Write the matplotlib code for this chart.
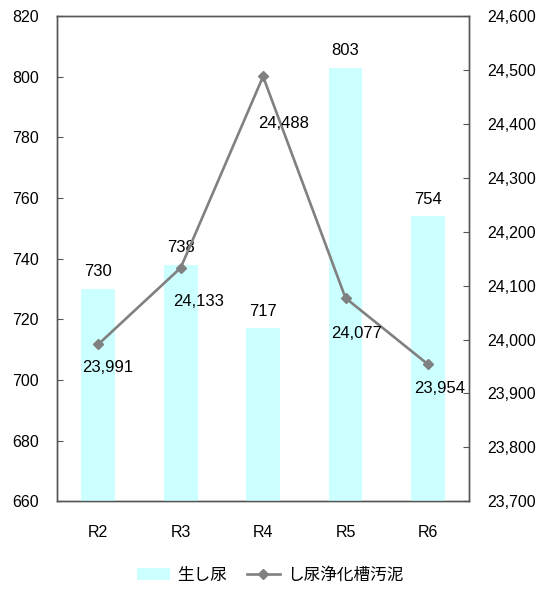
import matplotlib.pyplot as plt
from matplotlib.ticker import FuncFormatter

plt.rcParams['font.family'] = ['Liberation Sans', 'Noto Sans CJK JP', 'DejaVu Sans']

years = ["R2", "R3", "R4", "R5", "R6"]
raw = [730, 738, 717, 803, 754]
sludge = [23991, 24133, 24488, 24077, 23954]

# label offsets (pixels) as placed in the reference
sludge_off = [(9, -23), (18, -34), (20, -47), (11, -35), (12, -24)]

fig = plt.figure(figsize=(5.43, 5.96), dpi=100)
ax = fig.add_axes([0.105, 0.159, 0.759, 0.814])
ax2 = ax.twinx()

x = range(len(years))
ax.bar(x, raw, width=0.41, color="#ccffff", zorder=3, label="生し尿")
ax.set_ylim(660, 820)
ax.set_yticks(range(660, 821, 20))
ax.set_xlim(-0.5, 4.5)
ax.set_xticks(list(x))
ax.set_xticklabels(years)

for i, v in enumerate(raw):
    ax.annotate(f"{v}", (i, v), xytext=(0, 17), textcoords="offset pixels",
                ha="center", va="center", fontsize=12, zorder=5)

ax2.plot(x, sludge, color="#808080", lw=1.9, marker="D", ms=5.5,
         markerfacecolor="#808080", markeredgecolor="#808080", label="し尿浄化槽汚泥")
ax2.set_ylim(23700, 24600)
ax2.set_yticks(range(23700, 24601, 100))
ax2.yaxis.set_major_formatter(FuncFormatter(lambda v, p: f"{int(v):,}"))

for i, v in enumerate(sludge):
    ax2.annotate(f"{v:,}", (i, v), xytext=sludge_off[i], textcoords="offset pixels",
                 ha="center", va="center", fontsize=12)

for a in (ax, ax2):
    for s in a.spines.values():
        s.set_color("#555555")
        s.set_linewidth(1.0)
    a.tick_params(axis="y", labelsize=11.5, length=4, direction="in",
                  color="#555555", pad=13)
ax.tick_params(axis="x", length=0, labelsize=11.5, pad=17)
ax.spines['bottom'].set_zorder(1)

h1, l1 = ax.get_legend_handles_labels()
h2, l2 = ax2.get_legend_handles_labels()
fig.legend(h1 + h2, l1 + l2, loc="center", bbox_to_anchor=(0.497, 0.035), ncol=2,
           frameon=False, handlelength=2.0, handletextpad=0.4, columnspacing=1.2,
           prop={'family': ['Noto Sans CJK JP'], 'size': 12})

plt.savefig("out.png", dpi=100)
